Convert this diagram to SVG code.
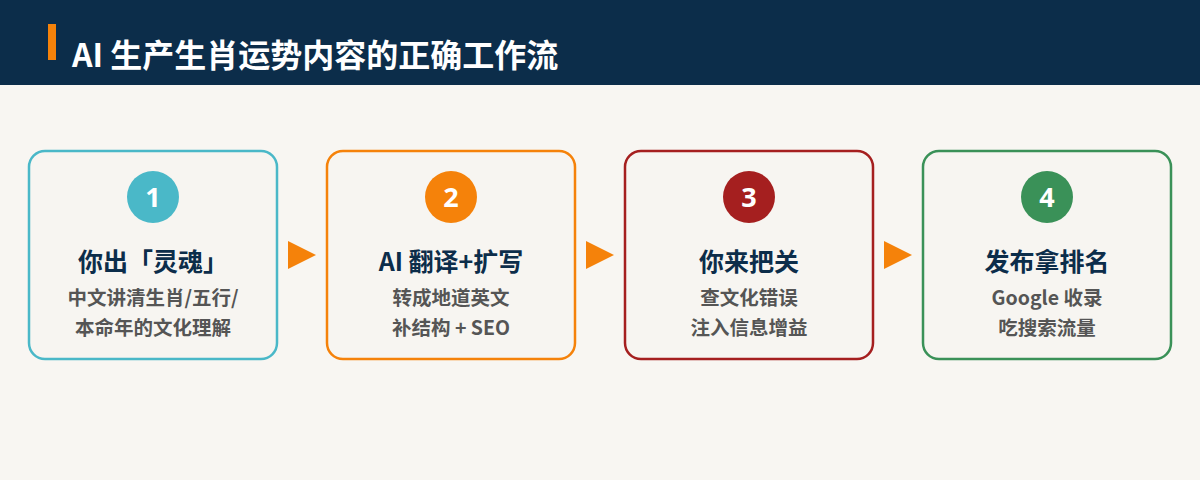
<svg xmlns="http://www.w3.org/2000/svg" width="1200" height="480" viewBox="0 0 1200 480">
<style>
.box{fill:#f7f5f1;stroke-width:2.5}
.num{font-family:"Noto Sans","Noto Sans CJK SC",sans-serif;font-weight:700;font-size:27px;fill:#fff;text-anchor:middle}
.ttl{font-family:"Noto Sans CJK SC",sans-serif;font-weight:700;font-size:25px;fill:#0c2d4a;text-anchor:middle}
.sub{font-family:"Noto Sans CJK SC",sans-serif;font-weight:700;font-size:19.5px;fill:#555555;text-anchor:middle}
.arr{fill:#f5820a}
</style>
<rect x="0" y="0" width="1200" height="480" fill="#f8f6f2"/>
<rect x="0" y="0" width="1200" height="85" fill="#0c2d4a"/>
<rect x="48" y="24" width="8" height="36" fill="#f5820a"/>
<text x="72" y="67" font-family="'Noto Sans CJK SC',sans-serif" font-weight="700" font-size="32" fill="#ffffff">AI 生产生肖运势内容的正确工作流</text>
<g id="connectors">
<polygon class="arr" points="288,241 316,255 288,269"/>
<polygon class="arr" points="586,241 614,255 586,269"/>
<polygon class="arr" points="884,241 912,255 884,269"/>
</g>
<g id="node1">
<rect class="box" x="29" y="151" width="248" height="208" rx="16" stroke="#4ab8c8"/>
<circle cx="153" cy="197" r="26" fill="#4ab8c8"/>
<text class="num" x="153" y="207">1</text>
<text class="ttl" x="153" y="271">你出「灵魂」</text>
<text class="sub" x="153" y="305">中文讲清生肖/五行/</text>
<text class="sub" x="153" y="335">本命年的文化理解</text>
</g>
<g id="node2">
<rect class="box" x="327" y="151" width="248" height="208" rx="16" stroke="#f5820a"/>
<circle cx="451" cy="197" r="26" fill="#f5820a"/>
<text class="num" x="451" y="207">2</text>
<text class="ttl" x="451" y="271">AI 翻译+扩写</text>
<text class="sub" x="451" y="305">转成地道英文</text>
<text class="sub" x="451" y="335">补结构 + SEO</text>
</g>
<g id="node3">
<rect class="box" x="625" y="151" width="248" height="208" rx="16" stroke="#a51f1f"/>
<circle cx="749" cy="197" r="26" fill="#a51f1f"/>
<text class="num" x="749" y="207">3</text>
<text class="ttl" x="749" y="271">你来把关</text>
<text class="sub" x="749" y="305">查文化错误</text>
<text class="sub" x="749" y="335">注入信息增益</text>
</g>
<g id="node4">
<rect class="box" x="923" y="151" width="248" height="208" rx="16" stroke="#3a9158"/>
<circle cx="1047" cy="197" r="26" fill="#3a9158"/>
<text class="num" x="1047" y="207">4</text>
<text class="ttl" x="1047" y="271">发布拿排名</text>
<text class="sub" x="1047" y="305">Google 收录</text>
<text class="sub" x="1047" y="335">吃搜索流量</text>
</g>
</svg>
